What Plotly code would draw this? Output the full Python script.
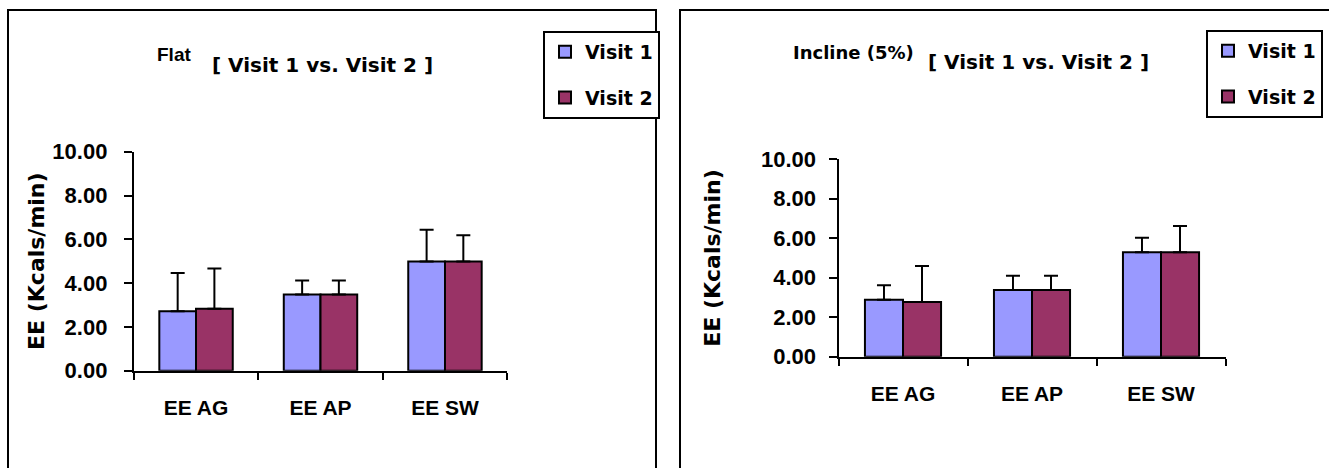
import plotly.graph_objects as go

W, H = 1329, 468

categories = ["EE AG", "EE AP", "EE SW"]
series_names = ["Visit 1", "Visit 2"]

flat_visit1 = [2.71, 3.48, 4.99]
flat_visit1_err = [1.75, 0.64, 1.45]
flat_visit2 = [2.83, 3.48, 4.99]
flat_visit2_err = [1.84, 0.64, 1.19]

incline_visit1 = [2.89, 3.38, 5.29]
incline_visit1_err = [0.73, 0.72, 0.74]
incline_visit2 = [2.77, 3.38, 5.29]
incline_visit2_err = [1.82, 0.72, 1.33]

y_tickvals = [0, 2, 4, 6, 8, 10]
y_ticktext = ["0.00", "2.00", "4.00", "6.00", "8.00", "10.00"]

colors = ["#9999FF", "#993366"]
ARIAL = "Liberation Sans, Arial"
WIDE = "DejaVu Sans, Verdana"


def px(x):
    return x / W


def py(y):
    return 1 - y / H


fig = go.Figure()

panels = [
    ("x", "y", "legend", [(flat_visit1, flat_visit1_err), (flat_visit2, flat_visit2_err)]),
    ("x2", "y2", "legend2", [(incline_visit1, incline_visit1_err), (incline_visit2, incline_visit2_err)]),
]

for xa, ya, lg, series in panels:
    for i, (vals, errs) in enumerate(series):
        fig.add_trace(go.Bar(
            x=categories, y=vals, name=series_names[i],
            xaxis=xa, yaxis=ya, legend=lg, legendgroup=f"{lg}{i}",
            marker=dict(color=colors[i], line=dict(color="black", width=2)),
            error_y=dict(type="data", symmetric=False, array=errs,
                         arrayminus=[0] * len(errs), color="black",
                         thickness=2, width=7),
        ))

axis_common_x = dict(
    showline=True, linecolor="black", linewidth=2,
    ticks="outside", tickson="boundaries", ticklen=7, tickwidth=2, tickcolor="black",
    showgrid=False, zeroline=False,
    tickfont=dict(family=ARIAL, size=21, color="black", weight="bold"),
    ticklabelstandoff=17,
)
axis_common_y = dict(
    range=[0, 10], tickvals=y_tickvals, ticktext=y_ticktext,
    showline=True, linecolor="black", linewidth=2,
    ticks="outside", ticklen=8, tickwidth=2, tickcolor="black",
    showgrid=False, zeroline=False,
    tickfont=dict(family=ARIAL, size=22, color="black", weight="bold"),
)
ytitle_font = dict(family=WIDE, size=22, color="black", weight="bold")

fig.update_layout(
    width=W, height=H,
    margin=dict(l=0, r=0, t=0, b=0, autoexpand=False),
    paper_bgcolor="white", plot_bgcolor="white",
    barmode="group", bargap=0.41, bargroupgap=0,
    showlegend=True,
    xaxis=dict(domain=[px(133.8), px(507.2)], anchor="y", **axis_common_x),
    yaxis=dict(domain=[py(370.7), py(151.7)], anchor="x", ticklabelstandoff=12,
               title=dict(text="EE (Kcals/min)", standoff=2, font=ytitle_font),
               **axis_common_y),
    xaxis2=dict(domain=[px(838.5), px(1225.5)], anchor="y2", **axis_common_x),
    yaxis2=dict(domain=[py(356.7), py(159.3)], anchor="x2", ticklabelstandoff=8,
                title=dict(text="EE (Kcals/min)", standoff=34, font=ytitle_font),
                **axis_common_y),
    legend=dict(x=px(543), y=py(31), xanchor="left", yanchor="top",
                bordercolor="black", borderwidth=2, bgcolor="white",
                tracegroupgap=18,
                font=dict(family=WIDE, size=19, color="black", weight="bold")),
    legend2=dict(x=px(1206), y=py(30), xanchor="left", yanchor="top",
                 bordercolor="black", borderwidth=2, bgcolor="white",
                 tracegroupgap=18,
                 font=dict(family=WIDE, size=19, color="black", weight="bold")),
)

# chart area borders
fig.add_shape(type="rect", xref="paper", yref="paper",
              x0=px(8), x1=px(656), y0=py(490), y1=py(10),
              line=dict(color="black", width=2), fillcolor="rgba(0,0,0,0)", layer="below")
fig.add_shape(type="rect", xref="paper", yref="paper",
              x0=px(680), x1=px(1345), y0=py(490), y1=py(10),
              line=dict(color="black", width=2), fillcolor="rgba(0,0,0,0)", layer="below")

titles = [
    ("Flat", 155, 54, ARIAL, 19), ("[ Visit 1 vs. Visit 2 ]", 210, 65, WIDE, 20),
    ("Incline (5%)", 791, 52, WIDE, 18), ("[ Visit 1 vs. Visit 2 ]", 926, 62, WIDE, 20),
]
for text, x0, yc, fam, size in titles:
    fig.add_annotation(text=text, xref="paper", yref="paper", x=px(x0), y=py(yc),
                       xanchor="left", yanchor="middle", showarrow=False,
                       font=dict(family=fam, size=size, color="black", weight="bold"))

fig.write_html("out.html", config={"displayModeBar": False},
               post_script="document.body.style.margin='0px';")
